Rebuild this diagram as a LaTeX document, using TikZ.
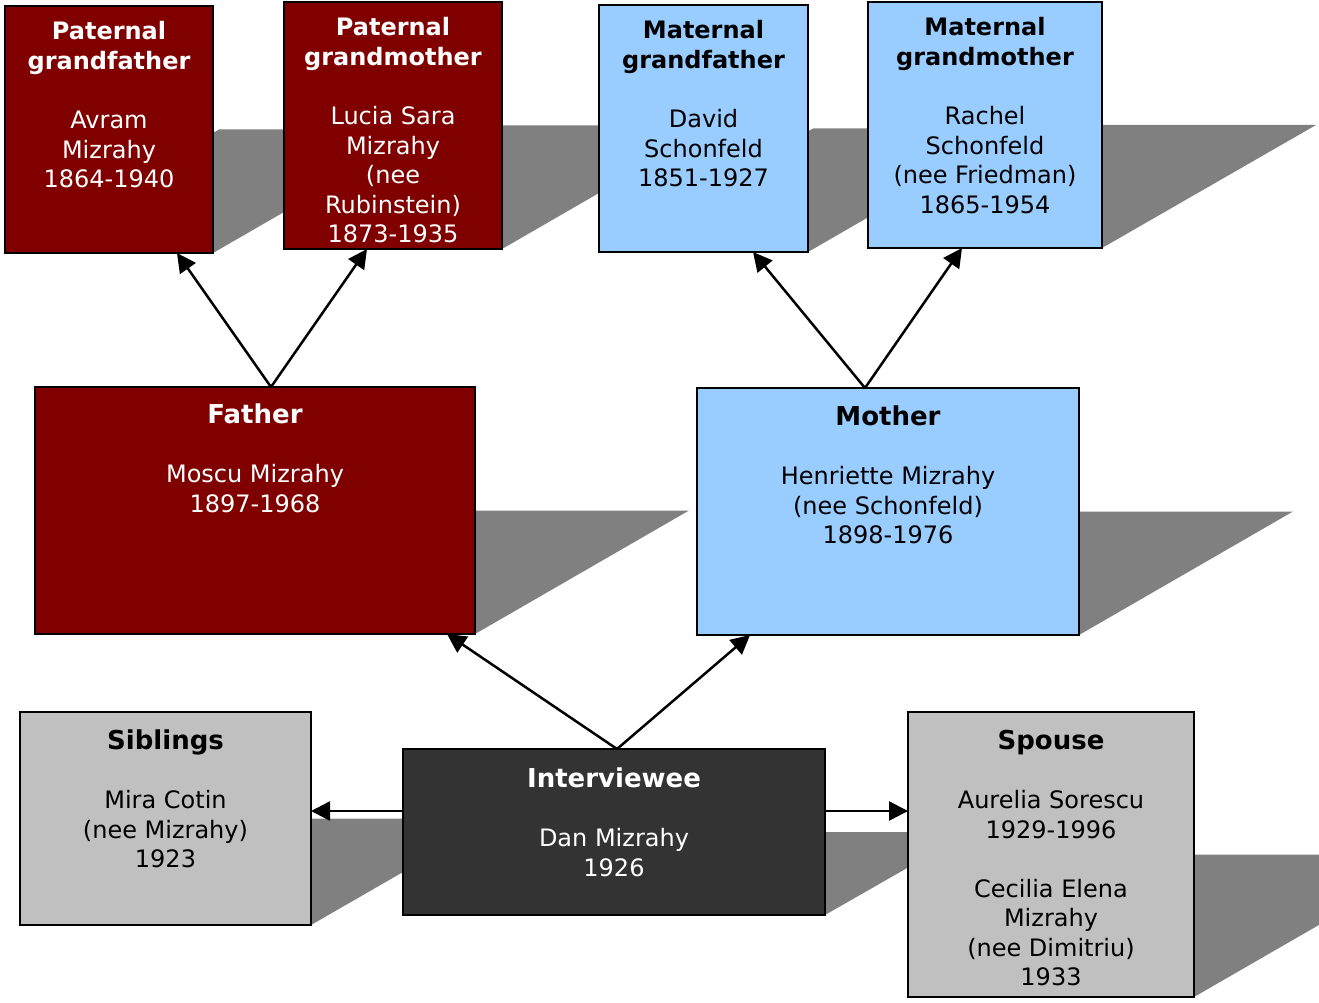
\documentclass[tikz,border=0pt]{standalone}
\usepackage{fontspec}
\setmainfont{DejaVu Sans}
\usetikzlibrary{arrows.meta,backgrounds}

\definecolor{patred}{HTML}{800000}
\definecolor{matblue}{HTML}{99CCFF}
\definecolor{relgray}{HTML}{C0C0C0}
\definecolor{medark}{HTML}{333333}
\definecolor{shadowgray}{HTML}{808080}

% box text, top aligned: [first baseline]{width}{height}{text}
\newcommand{\card}[4][37]{\parbox[t][#3pt][t]{#2pt}{\centering\fontsize{24}{29.5}\selectfont\rule{0pt}{#1pt}#4}}
\newcommand{\bigtitle}[1]{{\fontsize{26}{29.5}\selectfont\bfseries #1}}

\begin{document}
\begin{tikzpicture}[x=1pt,y=-1pt,
  person/.style={draw=black,line width=2pt,inner sep=0pt,outer sep=0pt},
  pat/.style={person,fill=patred,text=white},
  mat/.style={person,fill=matblue},
  rel/.style={person,fill=relgray},
  me/.style={person,fill=medark,text=white},
  link/.style={line width=2.5pt,-{Triangle[length=19pt,width=19pt]}}]
\useasboundingbox (0,0) rectangle (1319,1003);

% grandparents
\node[pat] at (109,129.5) (pgf) {\card[34]{208}{247}{{\bfseries Paternal\\grandfather}\\[30pt]Avram\\Mizrahy\\1864-1940}};
\node[pat] at (393,125.5) (pgm) {\card[34]{218}{247}{{\bfseries Paternal\\grandmother}\\[30pt]Lucia Sara\\Mizrahy\\(nee\\Rubinstein)\\1873-1935}};
\node[mat] at (703.5,128.5) (mgf) {\card[34]{209}{247}{{\bfseries Maternal\\grandfather}\\[30pt]David\\Schonfeld\\1851-1927}};
\node[mat] at (985,125) (mgm) {\card[34]{234}{246}{{\bfseries Maternal\\grandmother}\\[30pt]Rachel\\Schonfeld\\(nee Friedman)\\1865-1954}};

% parents
\node[pat] at (255,510.5) (father) {\card[36]{440}{247}{\bigtitle{Father}\\[30pt]Moscu Mizrahy\\1897-1968}};
\node[mat] at (888,511.5) (mother) {\card{382}{247}{\bigtitle{Mother}\\[30pt]Henriette Mizrahy\\(nee Schonfeld)\\1898-1976}};

% interviewee and relatives
\node[rel] at (165.5,818.5) (sib) {\card{291}{213}{\bigtitle{Siblings}\\[30pt]Mira Cotin\\(nee Mizrahy)\\1923}};
\node[me] at (614,832) (iv) {\card[38]{422}{166}{\bigtitle{Interviewee}\\[30pt]Dan Mizrahy\\1926}};
\node[rel] at (1051,854.5) (sp) {\card{286}{285}{\bigtitle{Spouse}\\[30pt]Aurelia Sorescu\\1929-1996\\[29.5pt]Cecilia Elena\\Mizrahy\\(nee Dimitriu)\\1933}};

% shadows
\begin{scope}[on background layer]
\clip (0,0) rectangle (1319,1003);
\foreach \n/\s in {pgf/214,pgm/214,mgf/214,mgm/214,father/214,mother/214,sib/185,iv/145,sp/247}
  \fill[shadowgray] (\n.south west) -- (\n.south east) -- ([xshift=\s pt]\n.east) -- ([xshift=\s pt]\n.west) -- cycle;
\end{scope}

\draw[link] ([xshift=16pt]father.north) -- ([xshift=68pt]pgf.south);
\draw[link] ([xshift=16pt]father.north) -- ([xshift=-26pt]pgm.south);
\draw[link] ([xshift=-23pt]mother.north) -- ([xshift=49.5pt]mgf.south);
\draw[link] ([xshift=-23pt]mother.north) -- ([xshift=-23pt]mgm.south);
\draw[link] ([xshift=3pt]iv.north) -- ([xshift=192pt]father.south);
\draw[link] ([xshift=3pt]iv.north) -- ([xshift=-138pt]mother.south);
\draw[link] ([yshift=21pt]iv.west) -- ([yshift=21pt]iv.west -| sib.east);
\draw[link] ([yshift=21pt]iv.east) -- ([yshift=21pt]iv.east -| sp.west);
\end{tikzpicture}
\end{document}
